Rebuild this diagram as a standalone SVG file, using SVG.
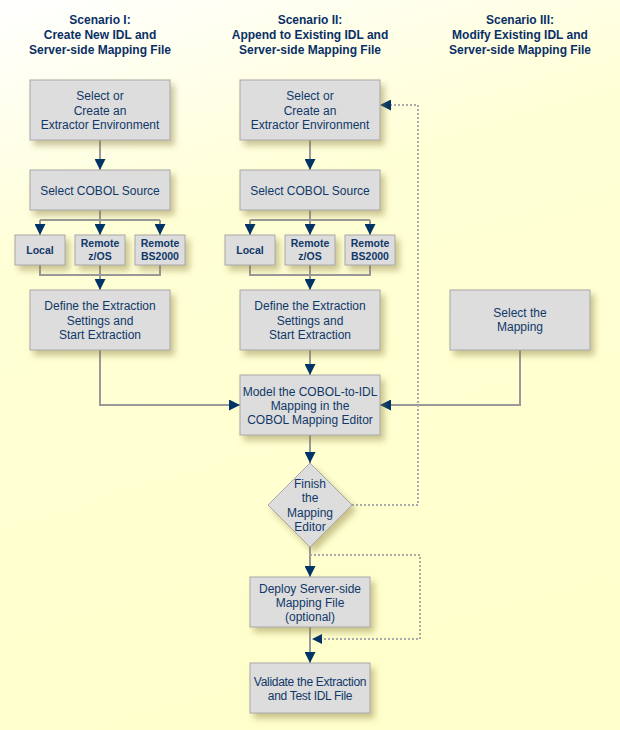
<svg xmlns="http://www.w3.org/2000/svg" width="620" height="730" viewBox="0 0 620 730">
<defs>
<linearGradient id="bg" x1="0" y1="0" x2="0.25" y2="1">
<stop offset="0" stop-color="#FFFFFF"/>
<stop offset="0.35" stop-color="#FFFFD6"/>
<stop offset="1" stop-color="#FFFFCC"/>
</linearGradient>
<filter id="sh" x="-20%" y="-20%" width="150%" height="160%">
<feDropShadow dx="4" dy="5" stdDeviation="3" flood-color="#8A7A3A" flood-opacity="0.45"/>
</filter>
<marker id="ah" markerUnits="userSpaceOnUse" markerWidth="11" markerHeight="11" viewBox="0 0 10 10" refX="10" refY="5" orient="auto">
<path d="M0,0 L10,5 L0,10 z" fill="#003366"/>
</marker>
</defs>
<style>
.box{fill:#DDDDDD;stroke:#A8A8A8;stroke-width:1;filter:url(#sh)}
.t{font-family:"Liberation Sans",Arial,sans-serif;font-size:12px;fill:#103868;text-anchor:middle}
.s{font-family:"Liberation Sans",Arial,sans-serif;font-size:10.5px;font-weight:bold;fill:#103868;text-anchor:middle}
.h{font-family:"Liberation Sans",Arial,sans-serif;font-size:12px;font-weight:bold;fill:#0A2F66;text-anchor:middle}
.c{fill:none;stroke:#999999;stroke-width:2}
.d{fill:none;stroke:#AAAAAA;stroke-width:2;stroke-dasharray:2 2}
.a{marker-end:url(#ah)}
</style>
<rect x="0" y="0" width="620" height="730" fill="url(#bg)"/>

<g id="titles">
<text class="h" x="100" y="24">Scenario I:</text>
<text class="h" x="100" y="39">Create New IDL and</text>
<text class="h" x="100" y="54">Server-side Mapping File</text>
<text class="h" x="310" y="24">Scenario II:</text>
<text class="h" x="310" y="39">Append to Existing IDL and</text>
<text class="h" x="310" y="54">Server-side Mapping File</text>
<text class="h" x="520" y="24">Scenario III:</text>
<text class="h" x="520" y="39">Modify Existing IDL and</text>
<text class="h" x="520" y="54">Server-side Mapping File</text>
</g>

<g id="connectors">
<path class="c a" d="M100,140 V170"/>
<path class="c" d="M100,210 V220 M40,220 H160"/>
<path class="c a" d="M40,220 V235"/>
<path class="c a" d="M100,220 V235"/>
<path class="c a" d="M160,220 V235"/>
<path class="c" d="M40,265 V275 H160 V265 M100,265 V275"/>
<path class="c a" d="M100,275 V290"/>
<path class="c a" d="M100,350 V405 H240"/>

<path class="c a" d="M310,140 V170"/>
<path class="c" d="M310,210 V220 M250,220 H370"/>
<path class="c a" d="M250,220 V235"/>
<path class="c a" d="M310,220 V235"/>
<path class="c a" d="M370,220 V235"/>
<path class="c" d="M250,265 V275 H370 V265 M310,265 V275"/>
<path class="c a" d="M310,275 V290"/>
<path class="c a" d="M310,350 V375"/>

<path class="c a" d="M520,350 V405 H380"/>
<path class="c a" d="M310,435 V463"/>
<path class="d a" d="M352,505 H418 V105 H380"/>
<path class="c a" d="M310,547 V577"/>
<path class="d" d="M310,555 H420 V639 H320"/>
<path class="c a" d="M310,627 V663"/>
<path d="M322,634 L312,639 L322,644 z" fill="#003366"/>
</g>

<g id="s1-env"><rect class="box" x="30" y="80" width="140" height="60"/>
<text class="t" x="100" y="100">Select or</text><text class="t" x="100" y="114.5">Create an</text><text class="t" x="100" y="129">Extractor Environment</text></g>
<g id="s1-source"><rect class="box" x="30" y="170" width="140" height="40"/>
<text class="t" x="100" y="194.5">Select COBOL Source</text></g>
<g id="s1-local"><rect class="box" x="15" y="235" width="50" height="30"/>
<text class="s" x="40" y="254">Local</text></g>
<g id="s1-zos"><rect class="box" x="75" y="235" width="50" height="30"/>
<text class="s" x="100" y="247">Remote</text><text class="s" x="100" y="260">z/OS</text></g>
<g id="s1-bs2000"><rect class="box" x="135" y="235" width="50" height="30"/>
<text class="s" x="160" y="247">Remote</text><text class="s" x="160" y="260">BS2000</text></g>
<g id="s1-define"><rect class="box" x="30" y="290" width="140" height="60"/>
<text class="t" x="100" y="310">Define the Extraction</text><text class="t" x="100" y="324.5">Settings and</text><text class="t" x="100" y="339">Start Extraction</text></g>

<g id="s2-env"><rect class="box" x="240" y="80" width="140" height="60"/>
<text class="t" x="310" y="100">Select or</text><text class="t" x="310" y="114.5">Create an</text><text class="t" x="310" y="129">Extractor Environment</text></g>
<g id="s2-source"><rect class="box" x="240" y="170" width="140" height="40"/>
<text class="t" x="310" y="194.5">Select COBOL Source</text></g>
<g id="s2-local"><rect class="box" x="225" y="235" width="50" height="30"/>
<text class="s" x="250" y="254">Local</text></g>
<g id="s2-zos"><rect class="box" x="285" y="235" width="50" height="30"/>
<text class="s" x="310" y="247">Remote</text><text class="s" x="310" y="260">z/OS</text></g>
<g id="s2-bs2000"><rect class="box" x="345" y="235" width="50" height="30"/>
<text class="s" x="370" y="247">Remote</text><text class="s" x="370" y="260">BS2000</text></g>
<g id="s2-define"><rect class="box" x="240" y="290" width="140" height="60"/>
<text class="t" x="310" y="310">Define the Extraction</text><text class="t" x="310" y="324.5">Settings and</text><text class="t" x="310" y="339">Start Extraction</text></g>

<g id="s3-select"><rect class="box" x="450" y="290" width="140" height="60"/>
<text class="t" x="520" y="317">Select the</text><text class="t" x="520" y="331">Mapping</text></g>

<g id="model"><rect class="box" x="240" y="375" width="140" height="60"/>
<text class="t" x="310" y="395.5">Model the COBOL-to-IDL</text><text class="t" x="310" y="409.5">Mapping in the</text><text class="t" x="310" y="424">COBOL Mapping Editor</text></g>

<g id="finish"><polygon class="box" points="310,463 352,505 310,547 268,505"/>
<text class="t" x="310" y="487.5">Finish</text><text class="t" x="310" y="502">the</text><text class="t" x="310" y="516.5">Mapping</text><text class="t" x="310" y="530.5">Editor</text></g>

<g id="deploy"><rect class="box" x="250" y="577" width="120" height="50"/>
<text class="t" x="310" y="592.5">Deploy Server-side</text><text class="t" x="310" y="606.5">Mapping File</text><text class="t" x="310" y="620.5">(optional)</text></g>

<g id="validate"><rect class="box" x="250" y="663" width="120" height="50"/>
<text class="t" x="310" y="685.5" letter-spacing="-0.3">Validate the Extraction</text><text class="t" x="310" y="699.5" letter-spacing="-0.3">and Test IDL File</text></g>
</svg>
